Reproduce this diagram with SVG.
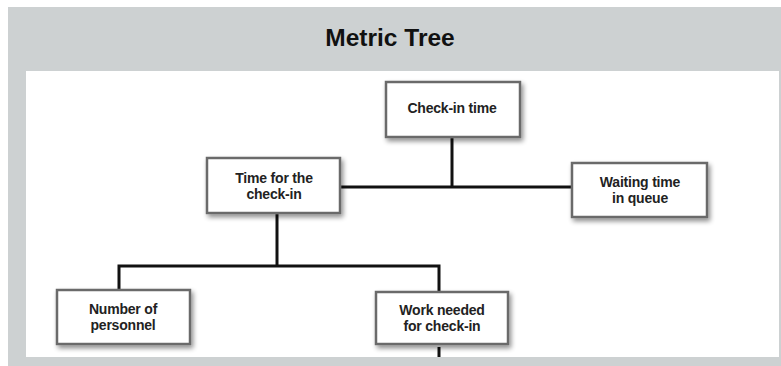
<svg xmlns="http://www.w3.org/2000/svg" width="781" height="366" viewBox="0 0 781 366">
  <defs>
    <filter id="sh" x="-20%" y="-30%" width="150%" height="170%">
      <feGaussianBlur in="SourceAlpha" stdDeviation="2.5"/>
      <feOffset dx="2" dy="3" result="b"/>
      <feComponentTransfer><feFuncA type="linear" slope="0.45"/></feComponentTransfer>
      <feMerge><feMergeNode/><feMergeNode in="SourceGraphic"/></feMerge>
    </filter>
  </defs>
  <style>
    .box { fill: #ffffff; stroke: #6b6b6b; stroke-width: 2.5; filter: url(#sh); }
    .lbl { font-family: "Liberation Sans", Arial, sans-serif; font-weight: bold; font-size: 14px; fill: #222; text-anchor: middle; letter-spacing: -0.2px; }
    .title { font-family: "Liberation Sans", Arial, sans-serif; font-weight: bold; font-size: 24.5px; fill: #111; text-anchor: middle; }
    .conn { stroke: #111; stroke-width: 3; fill: none; }
  </style>
  <rect x="0" y="0" width="781" height="366" fill="#ffffff"/>
  <rect x="8" y="7" width="773" height="359" fill="#cdd1d2"/>
  <rect x="26" y="71" width="753" height="286" fill="#ffffff"/>
  <text class="title" x="390" y="46">Metric Tree</text>

  <g id="connectors">
    <path class="conn" d="M452 137 V187"/>
    <path class="conn" d="M340 187 H572"/>
    <path class="conn" d="M277 213 V266"/>
    <path class="conn" d="M119 290 V266 H439 V292"/>
    <path class="conn" d="M439 347 V357"/>
  </g>

  <g id="checkin-time">
    <rect class="box" x="386" y="82" width="134" height="55"/>
    <text class="lbl" x="452" y="113">Check-in time</text>
  </g>
  <g id="time-for-checkin">
    <rect class="box" x="207" y="158" width="133" height="55"/>
    <text class="lbl" x="274" y="183">Time for the</text>
    <text class="lbl" x="274" y="199">check-in</text>
  </g>
  <g id="waiting-time">
    <rect class="box" x="572" y="163" width="135" height="54"/>
    <text class="lbl" x="640" y="187">Waiting time</text>
    <text class="lbl" x="640" y="203">in queue</text>
  </g>
  <g id="number-personnel">
    <rect class="box" x="57" y="290" width="133" height="54"/>
    <text class="lbl" x="123" y="314">Number of</text>
    <text class="lbl" x="123" y="330">personnel</text>
  </g>
  <g id="work-needed">
    <rect class="box" x="376" y="292" width="132" height="52"/>
    <text class="lbl" x="442" y="315">Work needed</text>
    <text class="lbl" x="442" y="331">for check-in</text>
  </g>
</svg>
